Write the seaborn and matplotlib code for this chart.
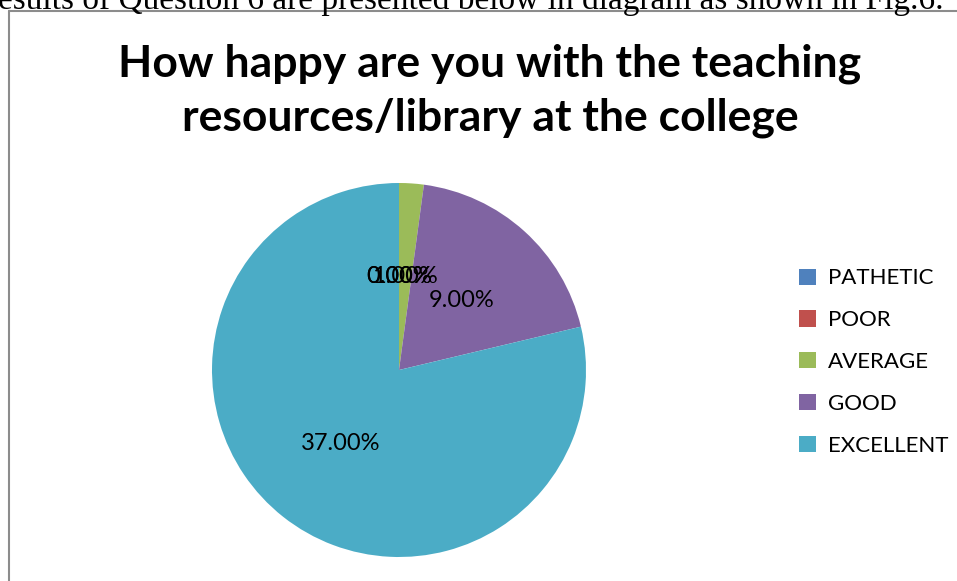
import matplotlib
matplotlib.use("Agg")
import matplotlib.pyplot as plt
from matplotlib.lines import Line2D
import seaborn as sns

# Dữ liệu
categories = ["PATHETIC", "POOR", "AVERAGE", "GOOD", "EXCELLENT"]
values = [0, 0, 1, 9, 37]
colors = ["#4F81BD", "#C0504D", "#9BBB59", "#8064A2", "#4BACC6"]
title = "How happy are you with the teaching\nresources/library at the college"
caption = "esults of Question 6 are presented below in diagram as shown in Fig.6."

sns.set_theme(style="white")
plt.rcParams["font.family"] = ["Lato", "DejaVu Sans"]
plt.rcParams["text.color"] = "black"
palette = sns.color_palette(colors)

W, H = 957, 581
fig = plt.figure(figsize=(W / 100, H / 100), dpi=100)

# Vị trí hình tròn (tâm 399,370 px, bán kính 187 px)
cx, cy, r = 399, 370, 187
ax = fig.add_axes([(cx - r) / W, (H - cy - r) / H, 2 * r / W, 2 * r / H])

total = sum(values)
wedges, texts, autotexts = ax.pie(
    values, colors=palette, startangle=90, counterclock=False,
    autopct=lambda p: f"{p * total / 100:.2f}%", pctdistance=0.5,
    labeldistance=None, textprops={"fontsize": 17, "color": "black"},
    wedgeprops={"linewidth": 0},
)
ax.set_xlim(-1, 1)
ax.set_ylim(-1, 1)
ax.set_aspect("equal")

# Tiêu đề
fig.text(490 / W, 1 - 91 / H, title, ha="center", va="center", color="black",
         fontsize=32, fontweight="bold", linespacing=1.42)

# Chú thích
leg = ax.legend(wedges, categories, loc="center left",
                bbox_to_anchor=(779 / W, 1 - 362 / H), bbox_transform=fig.transFigure,
                frameon=False, fontsize=16, handlelength=0.75, handleheight=0.75,
                handletextpad=0.55, labelspacing=0.98)
for t in leg.get_texts():
    t.set_color("black")

# Dòng chữ phía trên và khung
fig.text(-2 / W, 1 - 9 / H, caption, ha="left", va="baseline", color="black",
         fontsize=24, family="Liberation Serif")
fig.add_artist(Line2D([9 / W, 9 / W], [0, 1 - 11 / H], color="#8c8c8c", lw=1.5))
fig.add_artist(Line2D([9 / W, 1], [1 - 11 / H, 1 - 11 / H], color="#8c8c8c", lw=1.5))

fig.savefig("out.png", dpi=100)
